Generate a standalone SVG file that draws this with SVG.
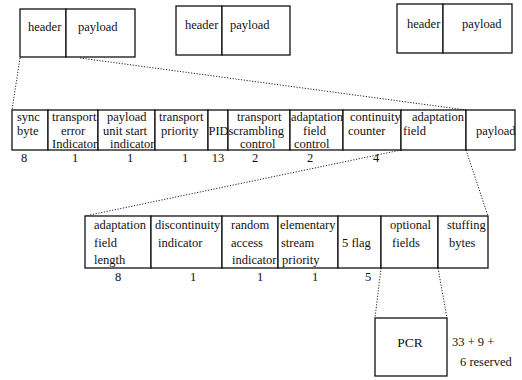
<svg xmlns="http://www.w3.org/2000/svg" width="522" height="380" viewBox="0 0 522 380">
<style>
rect{fill:#fff;stroke:#111;stroke-width:1.3}
text{font-family:"Liberation Serif","Times New Roman",serif;font-size:12.5px;fill:#111}
.c{text-anchor:middle}
.dot{fill:none;stroke:#222;stroke-width:1;stroke-dasharray:1.2 1.6}
</style>
<rect x="0" y="0" width="522" height="380" style="stroke:none;fill:#fff"/>
<g id="connectors">
<line class="dot" x1="20" y1="58" x2="12" y2="110"/>
<line class="dot" x1="80" y1="58" x2="466" y2="110"/>
<line class="dot" x1="401" y1="150" x2="85" y2="216"/>
<line class="dot" x1="466" y1="150" x2="488" y2="216"/>
<line class="dot" x1="381" y1="268" x2="375" y2="318"/>
<line class="dot" x1="438" y1="268" x2="447" y2="318"/>
</g>
<g id="packet1"><rect x="20" y="9" width="46" height="48"/><rect x="66" y="9" width="69" height="48"/><text x="28" y="31">header</text><text x="78" y="31">payload</text></g>
<g id="packet2"><rect x="176" y="6" width="46" height="49"/><rect x="222" y="6" width="68" height="49"/><text x="185" y="29">header</text><text x="230" y="29">payload</text></g>
<g id="packet3"><rect x="397" y="4" width="46" height="49"/><rect x="443" y="4" width="69" height="49"/><text x="407" y="28">header</text><text x="462" y="28">payload</text></g>

<g id="sync-byte"><rect x="12" y="110" width="36" height="40"/><text x="17" y="121">sync</text><text x="17" y="135">byte</text><text class="c" x="24" y="162">8</text></g>
<g id="transport-error-indicator"><rect x="48" y="110" width="50" height="40"/><text x="52" y="121">transport</text><text x="61" y="135">error</text><text x="52" y="148">Indicator</text><text class="c" x="75" y="162">1</text></g>
<g id="payload-unit-start-indicator"><rect x="98" y="110" width="57" height="40"/><text x="107" y="121">payload</text><text x="103" y="135">unit start</text><text x="110" y="148">indicator</text><text class="c" x="130" y="162">1</text></g>
<g id="transport-priority"><rect x="155" y="110" width="53" height="40"/><text x="159" y="121">transport</text><text x="161" y="135">priority</text><text class="c" x="185" y="162">1</text></g>
<g id="pid"><rect x="208" y="110" width="20" height="40"/><text x="208.5" y="135">PID</text><text class="c" x="218" y="162">13</text></g>
<g id="transport-scrambling-control"><rect x="228" y="110" width="62" height="40"/><text x="237" y="121">transport</text><text x="228.5" y="135">scrambling</text><text x="240" y="148">control</text><text class="c" x="255" y="162">2</text></g>
<g id="adaptation-field-control"><rect x="290" y="110" width="53" height="40"/><text x="291" y="121">adaptation</text><text x="303" y="135">field</text><text x="294" y="148">control</text><text class="c" x="310" y="162">2</text></g>
<g id="continuity-counter"><rect x="343" y="110" width="58" height="40"/><text x="350" y="121">continuity</text><text x="348" y="135">counter</text><text class="c" x="376" y="162">4</text></g>
<g id="adaptation-field"><rect x="401" y="110" width="65" height="40"/><text x="412" y="121">adaptation</text><text x="403" y="135">field</text></g>
<g id="payload"><rect x="466" y="110" width="49" height="40"/><text x="476" y="135">payload</text></g>

<g id="adaptation-field-length"><rect x="85" y="216" width="66" height="52"/><text x="94" y="229">adaptation</text><text x="94" y="247">field</text><text x="94" y="264">length</text><text class="c" x="118" y="281">8</text></g>
<g id="discontinuity-indicator"><rect x="151" y="216" width="71" height="52"/><text x="155" y="229">discontinuity</text><text x="158" y="247">indicator</text><text class="c" x="193" y="281">1</text></g>
<g id="random-access-indicator"><rect x="222" y="216" width="56" height="52"/><text x="231" y="229">random</text><text x="231" y="247">access</text><text x="232" y="264">indicator</text><text class="c" x="260" y="281">1</text></g>
<g id="elementary-stream-priority"><rect x="278" y="216" width="60" height="52"/><text x="280" y="229">elementary</text><text x="281" y="247">stream</text><text x="282" y="264">priority</text><text class="c" x="315" y="281">1</text></g>
<g id="five-flag"><rect x="338" y="216" width="43" height="52"/><text x="342" y="247">5 flag</text><text class="c" x="368" y="281">5</text></g>
<g id="optional-fields"><rect x="381" y="216" width="57" height="52"/><text x="390" y="229">optional</text><text x="392" y="247">fields</text></g>
<g id="stuffing-bytes"><rect x="438" y="216" width="50" height="52"/><text x="447" y="229">stuffing</text><text x="449" y="247">bytes</text></g>

<g id="pcr"><rect x="375" y="318" width="72" height="58"/><text class="c" x="410" y="347" style="font-size:13.5px">PCR</text><text x="452" y="346">33 + 9 +</text><text x="460" y="366">6 reserved</text></g>
</svg>
